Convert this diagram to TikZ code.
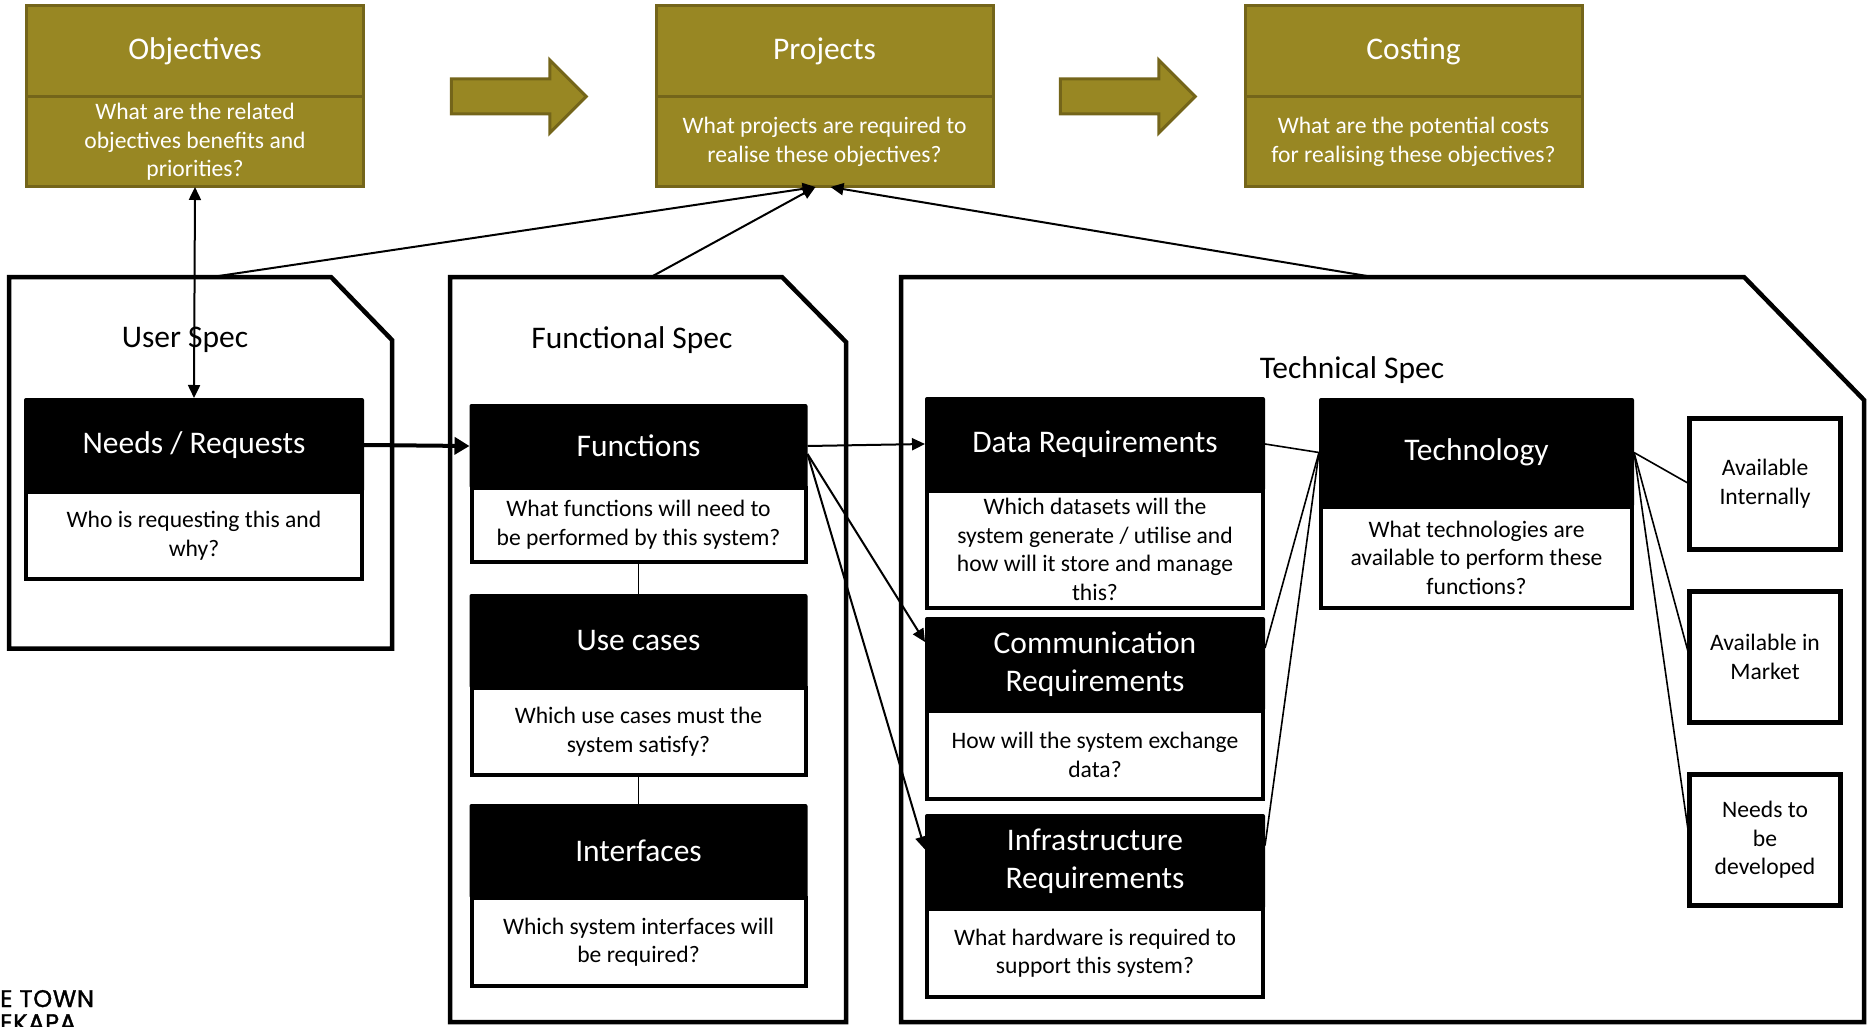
\documentclass[tikz,border=0pt]{standalone}
\usepackage{fontspec}
\setmainfont{Carlito}
\newfontfamily\logofont{Poppins}[LetterSpace=3,FakeBold=1.5]
\usepackage{tikz}
\usetikzlibrary{positioning}
\usetikzlibrary{arrows.meta,shapes.arrows}
\definecolor{olive}{RGB}{152,135,35}
\definecolor{olivedark}{RGB}{116,101,26}
\tikzset{x=1pt, y=1pt,
         titlefont/.style={font=\fontsize{31.5}{38}\selectfont},
         bodyfont/.style={font=\fontsize{23.6}{28.6}\selectfont},
         olivehead/.style={titlefont, fill=olive, draw=olivedark, line width=3pt,
           text=white, minimum width=337pt, minimum height=91pt, inner sep=0pt, outer sep=0pt},
         olivebody/.style={olivehead, bodyfont, align=center, minimum height=90.5pt},
         bigarrow/.style={single arrow, fill=olive, draw=olivedark, line width=3pt,
           inner xsep=0pt, inner ysep=16pt, single arrow head extend=19pt,
           minimum height=135pt},
         cardhead/.style={titlefont, fill=black, text=white, align=center,
           rounded corners=2pt, inner sep=0pt, outer sep=0pt},
         cardbody/.style={bodyfont, fill=white, draw=black, line width=4pt,
           align=center, inner sep=0pt, outer sep=0pt},
         optbox/.style={bodyfont, fill=white, draw=black, line width=5pt, align=center,
           minimum width=151pt, minimum height=131pt, inner sep=0pt, outer sep=0pt},
         specline/.style={line width=4.5pt, line join=miter},
         speclabel/.style={titlefont, inner sep=0pt},
         flow/.style={line width=2pt, -{Triangle[length=13pt,width=12pt]}},
         link/.style={line width=1.6pt},
         logotext/.style={inner sep=0pt}}

\begin{document}
\begin{tikzpicture}
  \useasboundingbox (0,0) rectangle (1870,-1027);

  % top row
  \node[olivehead, anchor=north] (obj) at (195,-5.5) {Objectives};
  \node[olivebody, below=0pt of obj] (objq)
    {What are the related\\objectives benefits and\\priorities?};
  \node[olivehead, anchor=north] (proj) at (824.5,-5.5) {Projects};
  \node[olivebody, below=0pt of proj] (projq)
    {What projects are required to\\realise these objectives?};
  \node[olivehead, anchor=north] (cost) at (1413.5,-5.5) {Costing};
  \node[olivebody, below=0pt of cost] (costq)
    {What are the potential costs\\for realising these objectives?};
  \node[bigarrow] (arrowa) at (510,-96.5) {};
  \node[bigarrow] (arrowb) at (1119,-96.5) {};

  % spec outlines
  \draw[specline] (9,-277) -- (331,-277) -- (392,-340) -- (392,-648.5) -- (9,-648.5) -- cycle;
  \draw[specline] (450,-277) -- (782,-277) -- (846,-342) -- (846,-1022) -- (450,-1022) -- cycle;
  \draw[specline] (901,-277) -- (1744,-277) -- (1864,-400) -- (1864,-1022) -- (901,-1022) -- cycle;
  \coordinate (usertop) at (212,-277);
  \coordinate (functop) at (651,-277);
  \coordinate (techtop) at (1373,-277);
  \node[speclabel] (userlbl) at (185,-340) {User Spec};
  \node[speclabel] (funclbl) at (632,-340) {Functional Spec};
  \node[speclabel] (techlbl) at (1352,-370) {Technical Spec};

  % user spec
  \node[cardhead, anchor=north, minimum width=340pt, minimum height=94pt] (needs) at (194,-398)
    {Needs / Requests};
  \node[cardbody, below=0pt of needs, minimum width=336pt, minimum height=87pt] (needsq)
    {Who is requesting this and\\why?};

  % functional spec
  \node[cardhead, anchor=north, minimum width=338pt, minimum height=84pt] (func) at (638.5,-404)
    {Functions};
  \node[cardbody, below=0pt of func, minimum width=334pt, minimum height=74pt] (funcq)
    {What functions will need to\\be performed by this system?};
  \node[cardhead, below=32pt of funcq, minimum width=338pt, minimum height=94pt] (usec)
    {Use cases};
  \node[cardbody, below=0pt of usec, minimum width=334pt, minimum height=87pt] (usecq)
    {Which use cases must the\\system satisfy?};
  \node[cardhead, below=29pt of usecq, minimum width=338pt, minimum height=94pt] (intf)
    {Interfaces};
  \node[cardbody, below=0pt of intf, minimum width=334pt, minimum height=88pt] (intfq)
    {Which system interfaces will\\be required?};

  % technical spec
  \node[cardhead, anchor=north, minimum width=340pt, minimum height=94pt] (data) at (1095,-397)
    {Data Requirements};
  \node[cardbody, below=0pt of data, minimum width=336pt, minimum height=117pt] (dataq)
    {Which datasets will the\\system generate / utilise and\\how will it store and manage\\this?};
  \node[cardhead, below=9pt of dataq, minimum width=340pt, minimum height=94pt] (comm)
    {Communication\\Requirements};
  \node[cardbody, below=0pt of comm, minimum width=336pt, minimum height=88pt] (commq)
    {How will the system exchange\\data?};
  \node[cardhead, below=15pt of commq, minimum width=340pt, minimum height=95pt] (infra)
    {Infrastructure\\Requirements};
  \node[cardbody, below=0pt of infra, minimum width=336pt, minimum height=88pt] (infraq)
    {What hardware is required to\\support this system?};
  \node[cardhead, anchor=north, minimum width=315pt, minimum height=109pt] (tech) at (1476.5,-398)
    {Technology};
  \node[cardbody, below=0pt of tech, minimum width=311pt, minimum height=101pt] (techq)
    {What technologies are\\available to perform these\\functions?};

  \node[optbox] (intern) at (1765,-484) {Available\\Internally};
  \node[optbox, below=42pt of intern] (market) {Available in\\Market};
  \node[optbox, below=52pt of market] (devel) {Needs to\\be\\developed};

  % connectors
  \draw[flow, {Triangle[length=13pt,width=12pt]}-{Triangle[length=13pt,width=12pt]}]
    (objq.south) -- (needs.north);
  \draw[flow] (usertop) -- ([xshift=-9pt]projq.south);
  \draw[flow] (functop) -- ([xshift=-9pt]projq.south);
  \draw[flow] (techtop) -- ([xshift=6pt]projq.south);
  \draw[line width=4pt, -{Triangle[length=15pt,width=17pt]}] (needs.east) -- (func.west);
  \draw[link] (funcq.south) -- (usec.north);
  \draw[link] (usecq.south) -- (intf.north);
  \draw[flow] (func.east) -- (data.west);
  \draw[flow] ([yshift=-8pt]func.east) -- ([yshift=22pt]comm.west);
  \draw[flow] ([yshift=-8pt]func.east) -- ([yshift=12pt]infra.west);
  \draw[link] (data.east) -- (tech.west);
  \draw[link] ([yshift=16pt]comm.east) -- (tech.west);
  \draw[link] ([yshift=16pt]infra.east) -- (tech.west);
  \draw[link] (tech.east) -- (intern.west);
  \draw[link] (tech.east) -- (market.west);
  \draw[link] (tech.east) -- (devel.west);

  % logo remnant
  \node[logotext, anchor=base west] (logoa) at (0,-1007)
    {\logofont\fontsize{24}{28}\selectfont E TOWN};
  \node[logotext, anchor=base west] (logob) at (0,-1031)
    {\logofont\fontsize{24}{28}\selectfont EKAPA};
\end{tikzpicture}
\end{document}
